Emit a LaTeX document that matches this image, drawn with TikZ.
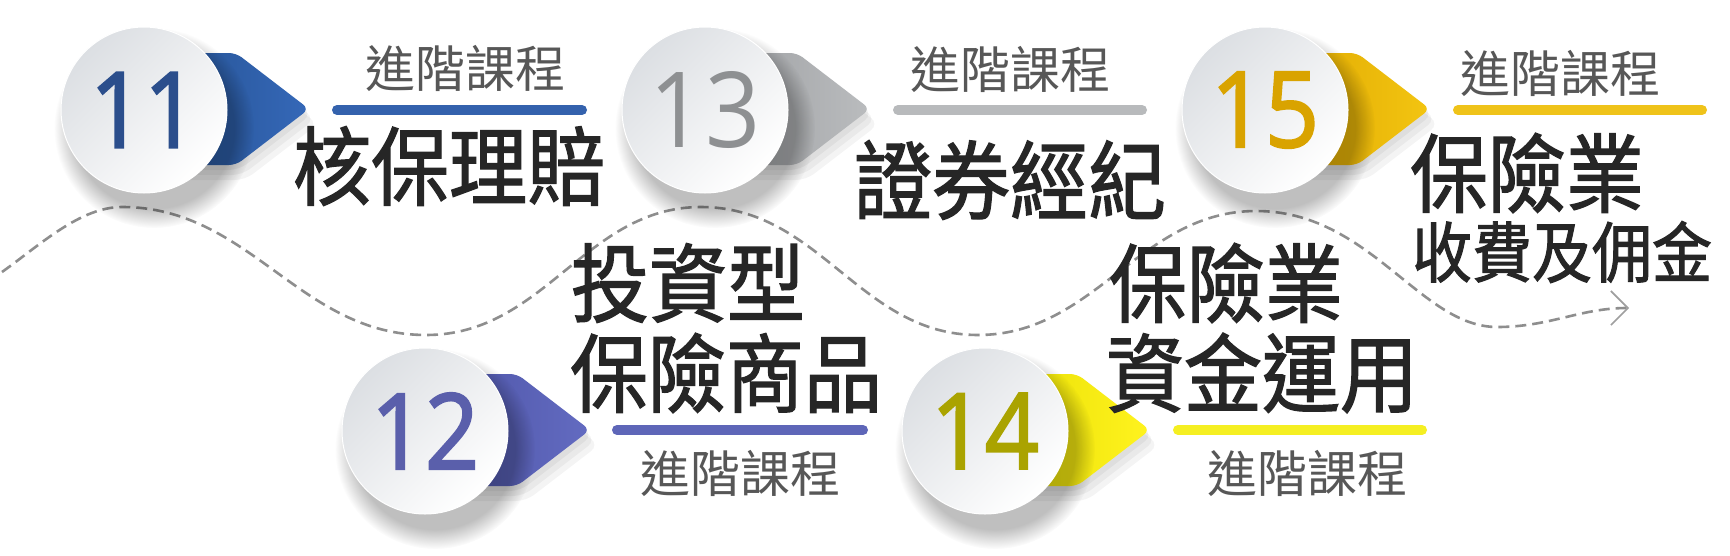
\documentclass[tikz,border=0pt]{standalone}
\usepackage{fontspec}
\newfontfamily\cjk{Noto Sans CJK TC}
\newfontfamily\cjkm[FakeBold=1.6]{Noto Sans CJK TC}
\newfontfamily\numfont{Open Sans}
\newfontfamily\numfontb[FakeBold=2.2]{Open Sans}
\usetikzlibrary{fadings,arrows.meta}
\definecolor{titlec}{HTML}{262626}
\definecolor{subc}{HTML}{575757}
\definecolor{wavec}{HTML}{8E8E8E}
\definecolor{circA}{HTML}{DCDFE3}
\definecolor{blueA}{HTML}{24508F}\definecolor{blueB}{HTML}{3568B8}\definecolor{blueN}{HTML}{2B4E8C}\definecolor{blueBar}{HTML}{3462AD}
\definecolor{grayA}{HTML}{9B9DA0}\definecolor{grayB}{HTML}{BABCBE}\definecolor{grayN}{HTML}{8E9092}\definecolor{grayBar}{HTML}{B8BABC}
\definecolor{goldA}{HTML}{DDA500}\definecolor{goldB}{HTML}{F3C511}\definecolor{goldN}{HTML}{D9A300}\definecolor{goldBar}{HTML}{EFC31A}
\definecolor{purA}{HTML}{4B52A4}\definecolor{purB}{HTML}{636BC1}\definecolor{purN}{HTML}{5A5FAB}\definecolor{purBar}{HTML}{5E66B8}
\definecolor{yelA}{HTML}{E6DC00}\definecolor{yelB}{HTML}{FFF31F}\definecolor{yelN}{HTML}{AAA300}\definecolor{yelBar}{HTML}{F5EF22}
\newcommand\stageArrow[3]{%
  \begin{scope}[shift={(#1)}]
    \foreach \k in {1,2,3}{
      \fill[black, opacity=0.045, rounded corners=10pt]
        (3*\k,-57+5*\k) -- (92+3*\k,-57+5*\k) -- (165+3*\k,-1+5*\k) -- (92+3*\k,55+5*\k) -- (0,55+5*\k) -- cycle;}
    \shade[left color=#2, right color=#3, rounded corners=7pt]
      (0,-57) -- (92,-57) -- (165,-1) -- (92,55) -- (0,55) -- cycle;
    \fill[black, opacity=0.25, path fading=circle with fuzzy edge 20 percent] (10,18) circle[radius=100pt];
  \end{scope}}
\newcommand\numtxt[1]{\scalebox{0.9}[1]{\numfontb\fontsize{105}{105}\selectfont #1}}
\newcommand\numtxtl[1]{\scalebox{0.92}[1]{\numfont\fontsize{105}{105}\selectfont #1}}
\begin{document}
\begin{tikzpicture}[x=1pt,y=-1pt,
  circ/.style={circle, minimum size=166pt, inner sep=0pt, top color=circA, bottom color=white, shading angle=45, draw=white, line width=1pt},
  sub/.style={font=\cjk\fontsize{50}{50}\selectfont, text=subc, inner sep=0pt},
  ttl/.style={font=\cjkm\fontsize{78}{78}\selectfont, text=titlec, inner sep=0pt},
  ttls/.style={font=\cjkm\fontsize{60}{60}\selectfont, text=titlec, inner sep=0pt},
  bar/.style={line width=10pt, line cap=round},
  wave/.style={draw=wavec, line width=2.6pt, dash pattern=on 11pt off 6pt}]
\fill[white] (0,0) rectangle (1730,555);
\useasboundingbox (0,0) rectangle (1730,555);
% wave
\coordinate (w0) at (2,272);
\coordinate (w1) at (122,207);
\coordinate (w2) at (426,335);
\coordinate (w3) at (701,207);
\coordinate (w4) at (978,335);
\coordinate (w5) at (1256,211);
\coordinate (w6) at (1497,327);
\coordinate (w7) at (1629,308);
\draw[wave, -{Straight Barb[length=17pt,width=34pt,line width=1.6pt,color=wavec!85!white]}]
  (w0) .. controls (40,245) and (80,207) .. (w1)
  .. controls (250,207) and (300,335) .. (w2)
  .. controls (545,335) and (585,207) .. (w3)
  .. controls (820,207) and (860,335) .. (w4)
  .. controls (1095,335) and (1140,211) .. (w5)
  .. controls (1370,211) and (1420,327) .. (w6)
  .. controls (1550,327) and (1580,308) .. (w7);
% centres
\coordinate (p11) at (144,110);
\coordinate (p13) at (705,110);
\coordinate (p15) at (1265,110);
\coordinate (p12) at (425,431);
\coordinate (p14) at (985,431);
\stageArrow{p11}{blueA}{blueB}
\stageArrow{p13}{grayA}{grayB}
\stageArrow{p15}{goldA}{goldB}
\stageArrow{p12}{purA}{purB}
\stageArrow{p14}{yelA}{yelB}
\node[circ, text=blueN] (c11) at (p11) {\numtxt{11}};
\node[circ, text=grayN] (c13) at (p13) {\numtxtl{13}};
\node[circ, text=goldN] (c15) at (p15) {\numtxt{15}};
\node[circ, text=purN] (c12) at (p12) {\numtxt{12}};
\node[circ, text=yelN] (c14) at (p14) {\numtxt{14}};
% bars
\coordinate (b11a) at (337,110); \coordinate (b11b) at (582,110);
\coordinate (b13a) at (898,110); \coordinate (b13b) at (1142,110);
\coordinate (b15a) at (1458,110); \coordinate (b15b) at (1702,110);
\coordinate (b12a) at (617,430); \coordinate (b12b) at (863,430);
\coordinate (b14a) at (1178,430); \coordinate (b14b) at (1422,430);
\draw[bar, blueBar] (b11a) -- (b11b);
\draw[bar, grayBar] (b13a) -- (b13b);
\draw[bar, goldBar] (b15a) -- (b15b);
\draw[bar, purBar] (b12a) -- (b12b);
\draw[bar, yelBar] (b14a) -- (b14b);
% texts
\node[sub] (s11) at (465,68) {進階課程};
\node[ttl] (t11) at (449,166) {\scalebox{1}[1.1]{核保理賠}};
\node[sub] (s13) at (1010,69) {進階課程};
\node[ttl] (t13) at (1010,180) {\scalebox{1}[1.1]{證券經紀}};
\node[sub] (s15) at (1560,73) {進階課程};
\node[ttl] (t15a) at (1527,173) {\scalebox{1}[1.1]{保險業}};
\node[ttls] (t15b) at (1562,252) {\scalebox{1}[1.1]{收費及佣金}};
\node[ttl] (t12a) at (688,283) {\scalebox{1}[1.1]{投資型}};
\node[ttl] (t12b) at (726,373) {\scalebox{1}[1.1]{保險商品}};
\node[sub] (s12) at (740,473) {進階課程};
\node[ttl] (t14a) at (1226,283) {\scalebox{1}[1.1]{保險業}};
\node[ttl] (t14b) at (1262,373) {\scalebox{1}[1.1]{資金運用}};
\node[sub] (s14) at (1307,473) {進階課程};
\end{tikzpicture}
\end{document}
